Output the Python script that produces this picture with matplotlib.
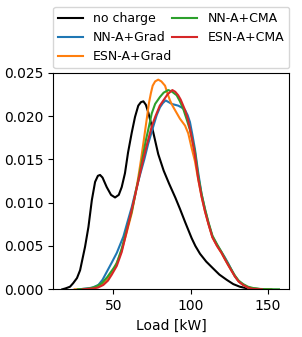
import matplotlib
matplotlib.use("Agg")
import matplotlib.pyplot as plt

labels = ["no charge", "NN-A+Grad", "ESN-A+Grad", "NN-A+CMA", "ESN-A+CMA"]
colors = ["black", "C0", "C1", "C2", "C3"]

x_nocharge = [17, 19, 22, 24, 26.5, 28.5, 31.7, 33.9, 36.1, 38.2, 40, 41.4, 43, 45.7, 48.5, 51.1,
              53.5, 55.4, 57.5, 59.5, 61.9, 64, 66.1, 67.8, 69.4, 71, 72.6, 75.8, 79, 82.5,
              86, 90, 93, 96.5, 100.6, 103, 106, 110, 114.5, 118.5, 123.2, 127.5, 131.7,
              138, 145]
y_nocharge = [0, 0.0001, 0.0003, 0.0007, 0.0013, 0.0022, 0.0049, 0.0072, 0.0103, 0.0124, 0.0131, 0.0132,
              0.0129, 0.0118, 0.0109, 0.0106, 0.0109, 0.0118, 0.0134, 0.0158, 0.0181,
              0.0199, 0.0212, 0.0216, 0.0217, 0.0213, 0.0204, 0.0181, 0.0156, 0.0137,
              0.0122, 0.0106, 0.0093, 0.0077, 0.0059, 0.0050, 0.0041, 0.0032, 0.0024,
              0.0017, 0.0011, 0.0006, 0.0003, 0.00005, 0]

x_nn_grad = [28, 32.8, 36.5, 40.3, 43, 45.7, 49, 52.2, 56.5, 59, 61.9, 64.5, 67.2, 70,
             72.5, 75.8, 78, 80.1, 82, 83.8, 85.8, 87.7, 89.8, 91.9, 94, 96.3, 98, 99.5,
             101, 102.7, 104.8, 107, 109.2, 111.5, 114, 117, 119.9, 122, 124.2, 126.5,
             128.5, 131, 133.9, 137, 140.3, 145, 152]
y_nn_grad = [0, 0.0001, 0.0002, 0.0005, 0.0011, 0.0020, 0.0031, 0.0042, 0.0061, 0.0077,
             0.0095, 0.0114, 0.0132, 0.0150, 0.0168, 0.0188, 0.0201, 0.0210, 0.0215,
             0.0218, 0.0216, 0.0214, 0.0213, 0.0212, 0.0210, 0.0207, 0.0201, 0.0193,
             0.0179, 0.0162, 0.0135, 0.0110, 0.0092, 0.0076, 0.0061, 0.0051, 0.0043,
             0.0037, 0.0030, 0.0022, 0.0015, 0.0009, 0.0005, 0.0002, 0.0001, 0.00002, 0]

x_esn_grad = [25, 32, 36.1, 39, 42.5, 46, 50, 53, 55.4, 58.5, 61.9, 64, 66, 67.9, 69.5,
              70.9, 72, 73, 74.2, 75.4, 77, 79, 81, 83.4, 85, 86.6, 88.2, 89.8, 93, 96.3,
              98.4, 100.6, 102.7, 104.8, 107, 109.2, 111.5, 114, 117, 119.9, 122, 124.2,
              126.5, 128.5, 131, 133.9, 137, 140.3, 145, 152]
y_esn_grad = [0, 0, 0.0001, 0.0003, 0.0005, 0.0012, 0.0022, 0.0034, 0.0045, 0.0065,
              0.0088, 0.0108, 0.0128, 0.0150, 0.0170, 0.0188, 0.0202, 0.0215, 0.0226,
              0.0235, 0.0240, 0.0242, 0.0240, 0.0235, 0.0226, 0.0218, 0.0212, 0.0207,
              0.0197, 0.0189, 0.0180, 0.0163, 0.0148, 0.0127, 0.0107, 0.0090, 0.0075,
              0.0060, 0.0050, 0.0042, 0.0035, 0.0028, 0.0021, 0.0015, 0.0009, 0.0005,
              0.0002, 0.0001, 0.00002, 0]

x_nn_cma = [27, 34.6, 38.5, 42.5, 46, 50, 52.2, 55.4, 58.5, 61.9, 64, 66, 68.7, 71, 73,
            74.8, 77, 80.1, 82.5, 85.5, 88, 90.9, 93, 95.2, 97.4, 99.5, 101, 102.7, 104.8,
            107, 109.2, 111.5, 114, 117, 119.9, 122, 124.2, 126.5, 128.5, 131, 133.9, 137,
            140.3, 145, 150, 157]
y_nn_cma = [0, 0.0001, 0.0003, 0.0007, 0.0014, 0.0024, 0.0030, 0.0047, 0.0068, 0.0090,
            0.0108, 0.0125, 0.0150, 0.0172, 0.0188, 0.0203, 0.0214, 0.0222, 0.0227,
            0.0230, 0.0228, 0.0224, 0.0217, 0.0208, 0.0196, 0.0184, 0.0172, 0.0159,
            0.0131, 0.0110, 0.0093, 0.0077, 0.0062, 0.0052, 0.0043, 0.0036, 0.0029,
            0.0022, 0.0016, 0.0010, 0.0006, 0.0003, 0.00015, 0.00004, 0.00001, 0]

x_esn_cma = [30, 37, 40, 43.5, 46.5, 49, 52.2, 55.4, 58.5, 61.9, 64, 66.5, 69.3, 71.5,
             74.8, 77, 80, 82.3, 85, 88.1, 90, 91.9, 93.5, 96.3, 98, 99.5, 101, 102.7,
             104.8, 107, 109.2, 111.5, 114, 117, 119.9, 122, 124.2, 126.5, 128.5, 131,
             133.9, 137, 140.3, 146]
y_esn_cma = [0, 0.0001, 0.0002, 0.0005, 0.0010, 0.0017, 0.0027, 0.0043, 0.0066, 0.0092,
             0.0108, 0.0128, 0.0150, 0.0166, 0.0188, 0.0199, 0.0212, 0.0218, 0.0225,
             0.0230, 0.0228, 0.0224, 0.0219, 0.0207, 0.0197, 0.0185, 0.0172, 0.0155,
             0.0128, 0.0107, 0.0090, 0.0075, 0.0060, 0.0050, 0.0042, 0.0035, 0.0028,
             0.0021, 0.0015, 0.0009, 0.0005, 0.0002, 0.00005, 0]

xs = [x_nocharge, x_nn_grad, x_esn_grad, x_nn_cma, x_esn_cma]
ys = [y_nocharge, y_nn_grad, y_esn_grad, y_nn_cma, y_esn_cma]

x_ticks = [50, 100, 150]
y_ticks = [0.0, 0.005, 0.010, 0.015, 0.020, 0.025]

fig = plt.figure(figsize=(3.02, 3.37), dpi=100)
ax = fig.add_axes([0.1755, 0.1415, 0.7815, 0.6427])
for x, y, lab, c in zip(xs, ys, labels, colors):
    ax.plot(x, y, color=c, lw=1.5, label=lab)

ax.set_xlim(11, 163.5)
ax.set_ylim(0, 0.025)
ax.set_xticks(x_ticks)
ax.set_yticks(y_ticks)
ax.set_xlabel("Load [kW]")
ax.legend(loc="lower left", bbox_to_anchor=(0, 1.02, 1, 0.2), mode="expand", ncol=2,
          borderaxespad=0.0, fontsize=9)
fig.savefig("out.png", dpi=100)
